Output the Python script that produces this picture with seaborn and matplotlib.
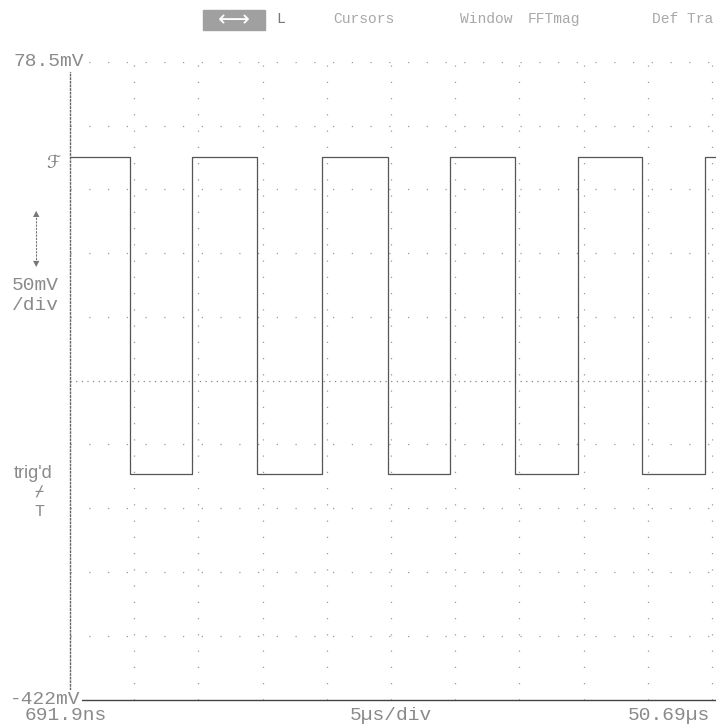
import matplotlib
matplotlib.use("Agg")
import matplotlib.pyplot as plt
from matplotlib.patches import Rectangle
import numpy as np
import pandas as pd
import seaborn as sns

# --- data ---
t_start_us = 0.6919
t_end_us = 50.69
us_per_div = 5.0
v_top_mv = 78.5
v_bottom_mv = -422.0
mv_per_div = 50.0

high_mv = 4.0
low_mv = -244.5
# edge times (us), signal starts high, alternates fall / rise
edge_times = [5.37, 10.23, 15.25, 20.32, 25.42, 30.29, 35.31, 40.22, 45.20, 50.11]

menu_items = ["L", "Cursors", "Window", "FFTmag", "Def Tra"]
menu_x = [281, 364, 486, 554, 683]

W, H = 716, 727


def fx(x):
    return x / W


def fy(y):
    return 1 - y / H


# build the step waveform from the edges
t_pts = [t_start_us]
v_pts = [high_mv]
level = high_mv
for t in edge_times:
    t_pts.append(t)
    v_pts.append(level)
    level = low_mv if level == high_mv else high_mv
    t_pts.append(t)
    v_pts.append(level)
x_right = t_start_us + 646 * (t_end_us - t_start_us) / 642
t_pts.append(x_right)
v_pts.append(level)
wave = pd.DataFrame({"t": t_pts, "v": v_pts})

sns.set_theme(style="white")
plt.rcParams["font.family"] = ["Liberation Mono", "DejaVu Sans Mono", "DejaVu Sans"]

fig = plt.figure(figsize=(W / 100, H / 100), dpi=100)
ax = fig.add_axes([fx(70), 27 / H, 646 / W, 638 / H])
ax.set_xlim(t_start_us, x_right)
ax.set_ylim(v_bottom_mv, v_top_mv)

grid_col = "#9a9a9a"
# horizontal divisions
for k in range(0, 10):
    y = v_top_mv - k * mv_per_div
    if k == 5:
        ax.axhline(y, color="#888888", lw=0.9, ls=(0, (1, 3.5)), zorder=1)
    else:
        ax.axhline(y, color=grid_col, lw=0.9, ls=(0, (1, 14)), zorder=1)
# vertical divisions
for k in range(1, 11):
    x = t_start_us + k * us_per_div
    ax.axvline(x, color=grid_col, lw=0.9, ls=(0, (1, 12)), zorder=1)

sns.lineplot(data=wave, x="t", y="v", sort=False, estimator=None,
             color="#555555", lw=0.9, ax=ax, zorder=3)
for ln in ax.lines[-1:]:
    ln.set_clip_on(False)

ax.set_xticks([])
ax.set_yticks([])
ax.set_xlabel("")
ax.set_ylabel("")
for s in ["top", "right"]:
    ax.spines[s].set_visible(False)
ax.spines["left"].set_color("#666666")
ax.spines["left"].set_linestyle((0, (1, 1.6)))
ax.spines["left"].set_linewidth(1.0)
ax.spines["bottom"].set_color("#444444")
ax.spines["bottom"].set_linewidth(1.0)

txt_col = "#8a8a8a"
bbox = dict(facecolor="white", edgecolor="none", pad=1)
fs = 14

fig.text(fx(13), fy(62), "78.5mV", fontsize=fs, color=txt_col, ha="left", va="center", bbox=bbox)
fig.text(fx(10), fy(700), "-422mV", fontsize=fs, color=txt_col, ha="left", va="center", bbox=bbox)
fig.text(fx(66), fy(716), "691.9ns", fontsize=fs, color=txt_col, ha="center", va="center")
fig.text(fx(391), fy(716), "5µs/div", fontsize=fs, color=txt_col, ha="center", va="center")
fig.text(fx(710), fy(716), "50.69µs", fontsize=fs, color=txt_col, ha="right", va="center")

fig.text(fx(12), fy(286), "50mV", fontsize=fs, color=txt_col, ha="left", va="center")
fig.text(fx(12), fy(306), "/div", fontsize=fs, color=txt_col, ha="left", va="center")
fig.text(fx(14), fy(473), "trig'd", fontsize=13, color=txt_col, ha="left", va="center",
         family="Liberation Sans")
fig.text(fx(39), fy(493), "⌿", fontsize=11, color=txt_col, ha="center", va="center")
fig.text(fx(39), fy(511), "T", fontsize=12, color=txt_col, ha="center", va="center")
fig.text(fx(53), fy(163), "ℱ", fontsize=13, color="#777777", ha="center", va="center",
         style="italic", family="DejaVu Sans")

# vertical position arrow
fig.add_artist(plt.Line2D([fx(36), fx(36)], [fy(214), fy(264)], color="#777777", lw=0.8,
                          ls=(0, (2, 1))))
fig.text(fx(36), fy(214), "▲", fontsize=6, color="#777777", ha="center", va="center", family="DejaVu Sans")
fig.text(fx(36), fy(264), "▼", fontsize=6, color="#777777", ha="center", va="center", family="DejaVu Sans")

# top menu bar
fig.add_artist(Rectangle((fx(203), fy(30)), 62 / W, 20 / H, transform=fig.transFigure,
                         facecolor="#a0a0a0", edgecolor="#a0a0a0"))
fig.text(fx(234), fy(20), "⟷", fontsize=16, color="white", ha="center", va="center",
         family="DejaVu Sans")
for label, x in zip(menu_items, menu_x):
    fig.text(fx(x), fy(19), label, fontsize=10.5, color="#a8a8a8" if label != "L" else "#777777",
             ha="center", va="center")

fig.savefig("out.png", dpi=100)
